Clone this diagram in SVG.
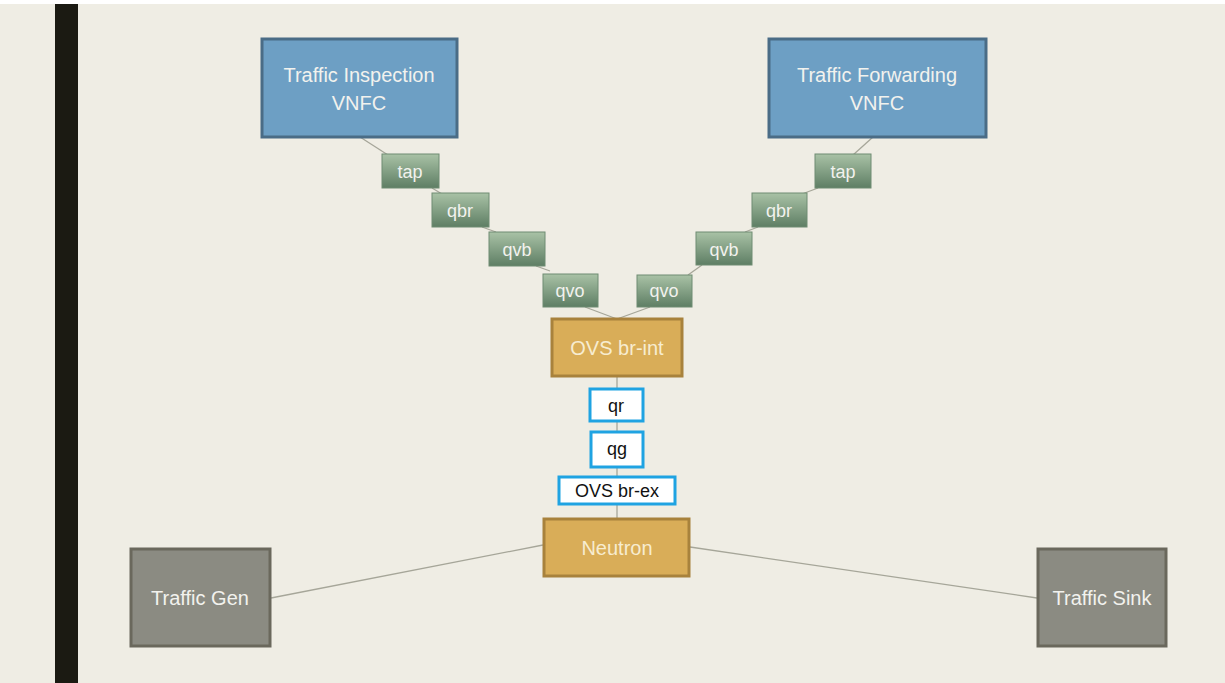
<svg xmlns="http://www.w3.org/2000/svg" width="1225" height="683" viewBox="0 0 1225 683">
<defs>
<linearGradient id="gr" x1="0" y1="0" x2="0" y2="1">
<stop offset="0" stop-color="#a9c2a6"/>
<stop offset="1" stop-color="#5e7e64"/>
</linearGradient>
<style>
.bg{fill:#efede4}
.blue rect{fill:#6d9fc4;stroke:#4a6c86;stroke-width:3}
.green rect{fill:url(#gr);stroke:#6f8c72;stroke-width:1}
.orange rect{fill:#d9ad58;stroke:#a8823c;stroke-width:3}
.gray rect{fill:#8b8b82;stroke:#6a685c;stroke-width:3}
.white rect{fill:#ffffff;stroke:#1fa3e2;stroke-width:3}
text{font-family:"Liberation Sans",Arial,sans-serif;text-anchor:middle}
.blue text,.green text,.gray text{fill:#f2f2ee;font-size:20px}
.green text{font-size:18px}
.orange text{fill:#f7ecd0;font-size:20px}
.white text{fill:#111;font-size:18px}
#connectors line{stroke:#a6a699;stroke-width:1.3}
</style>
</defs>
<rect x="0" y="0" width="1225" height="683" fill="#ffffff"/>
<rect class="bg" x="0" y="4" width="1225" height="679"/>
<rect x="55" y="4" width="23" height="679" fill="#1b1a12"/>
<g id="connectors">
<line x1="360" y1="137" x2="388" y2="155"/>
<line x1="432" y1="188" x2="442" y2="194"/>
<line x1="482" y1="227" x2="496" y2="232"/>
<line x1="536" y1="266" x2="550" y2="271"/>
<line x1="585" y1="307" x2="617" y2="319"/>
<line x1="873" y1="137" x2="853" y2="155"/>
<line x1="818" y1="188" x2="802" y2="194"/>
<line x1="758" y1="227" x2="745" y2="232"/>
<line x1="702" y1="265" x2="688" y2="275"/>
<line x1="650" y1="307" x2="617" y2="319"/>
<line x1="617" y1="376" x2="617" y2="518"/>
<line x1="543" y1="545" x2="271" y2="598"/>
<line x1="690" y1="547" x2="1037" y2="598"/>
</g>
<g id="inspection" class="blue">
<rect x="262" y="39" width="195" height="98"/>
<text x="359" y="82">Traffic Inspection</text>
<text x="359" y="110">VNFC</text>
</g>
<g id="forwarding" class="blue">
<rect x="769" y="39" width="217" height="98"/>
<text x="877" y="82">Traffic Forwarding</text>
<text x="877" y="110">VNFC</text>
</g>
<g id="tapL" class="green"><rect x="382" y="154" width="57" height="34"/><text x="410" y="178">tap</text></g>
<g id="qbrL" class="green"><rect x="432" y="193" width="57" height="34"/><text x="460" y="217">qbr</text></g>
<g id="qvbL" class="green"><rect x="489" y="232" width="56" height="34"/><text x="517" y="256">qvb</text></g>
<g id="qvoL" class="green"><rect x="543" y="274" width="55" height="33"/><text x="570" y="297">qvo</text></g>
<g id="tapR" class="green"><rect x="815" y="154" width="56" height="34"/><text x="843" y="178">tap</text></g>
<g id="qbrR" class="green"><rect x="752" y="193" width="55" height="34"/><text x="779" y="217">qbr</text></g>
<g id="qvbR" class="green"><rect x="696" y="232" width="56" height="33"/><text x="724" y="256">qvb</text></g>
<g id="qvoR" class="green"><rect x="637" y="275" width="55" height="32"/><text x="664" y="297">qvo</text></g>
<g id="brint" class="orange">
<rect x="552" y="319" width="130" height="57"/>
<text x="617" y="355">OVS br-int</text>
</g>
<g id="qr" class="white"><rect x="590" y="389" width="53" height="32"/><text x="616" y="412">qr</text></g>
<g id="qg" class="white"><rect x="591" y="432" width="52" height="35"/><text x="617" y="455">qg</text></g>
<g id="brex" class="white"><rect x="559" y="477" width="116" height="27"/><text x="617" y="497">OVS br-ex</text></g>
<g id="neutron" class="orange">
<rect x="544" y="519" width="145" height="57"/>
<text x="617" y="555">Neutron</text>
</g>
<g id="gen" class="gray">
<rect x="131" y="549" width="139" height="97"/>
<text x="200" y="605">Traffic Gen</text>
</g>
<g id="sink" class="gray">
<rect x="1038" y="549" width="128" height="97"/>
<text x="1102" y="605">Traffic Sink</text>
</g>
</svg>
